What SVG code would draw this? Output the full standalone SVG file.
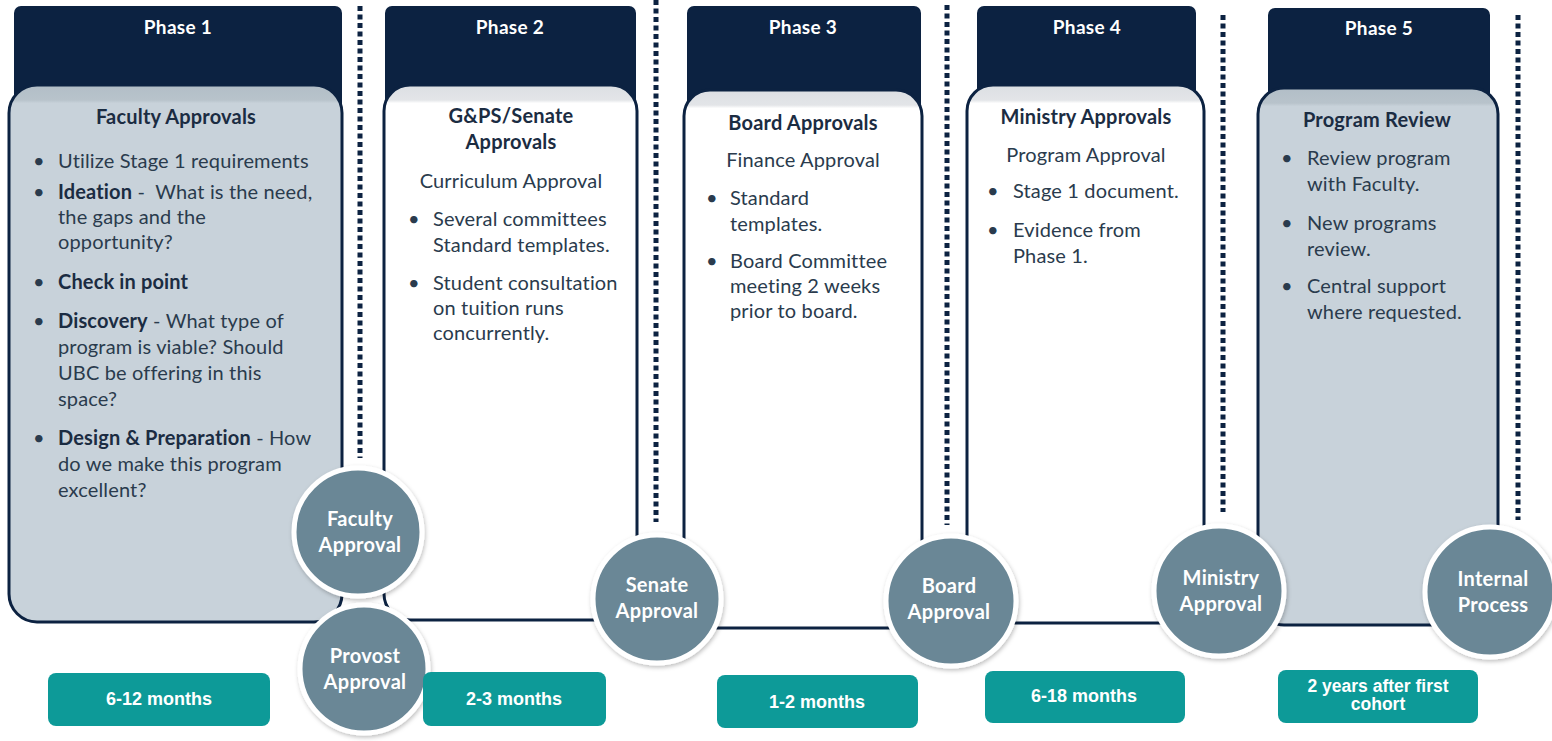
<svg xmlns="http://www.w3.org/2000/svg" width="1552" height="741" viewBox="0 0 1552 741">
<style>
  .hdr { fill: #0c2241; }
  .hdrt { font-family: Lato, "Open Sans", sans-serif; font-weight: bold; font-size: 19px; letter-spacing: 0.3px; fill: #ffffff; text-anchor: middle; }
  .card { stroke: #0c2241; stroke-width: 3; }
  .cw { fill: url(#gw); }
  .cb { fill: url(#gb); }
  .t { font-family: Lato, "Open Sans", sans-serif; font-size: 20px; letter-spacing: 0.15px; fill: #2a3b4d; }
  .h { font-family: Lato, "Open Sans", sans-serif; font-size: 20px; letter-spacing: 0.2px; font-weight: bold; fill: #1b2c42; text-anchor: middle; }
  .c { text-anchor: middle; }
  .b { font-weight: bold; fill: #1b2c42; }
  .dots { stroke: #0c2241; stroke-width: 5; stroke-dasharray: 5 3.5; fill: none; }
  .circ { fill: #6a8796; stroke: #ffffff; stroke-width: 5; filter: url(#sh); }
  .ct { font-family: Lato, "Open Sans", sans-serif; font-weight: bold; font-size: 20px; letter-spacing: 0.3px; fill: #ffffff; text-anchor: middle; }
  .dur { fill: #0d9a98; }
  .dt { font-family: "Liberation Sans", Arial, sans-serif; font-weight: bold; font-size: 18px; fill: #ffffff; text-anchor: middle; }
</style>
<defs>
  <linearGradient id="gw" x1="0" y1="0" x2="0" y2="1">
    <stop offset="0" stop-color="#dcdfe3"/>
    <stop offset="0.028" stop-color="#e3e5e8"/>
    <stop offset="0.034" stop-color="#ffffff"/>
    <stop offset="1" stop-color="#ffffff"/>
  </linearGradient>
  <linearGradient id="gb" x1="0" y1="0" x2="0" y2="1">
    <stop offset="0" stop-color="#b2bec7"/>
    <stop offset="0.028" stop-color="#b8c3cb"/>
    <stop offset="0.034" stop-color="#c8d2da"/>
    <stop offset="1" stop-color="#c8d2da"/>
  </linearGradient>
  <filter id="sh" x="-20%" y="-20%" width="140%" height="140%">
    <feDropShadow dx="1" dy="2" stdDeviation="2" flood-color="#000000" flood-opacity="0.25"/>
  </filter>
</defs>
<rect width="1552" height="741" fill="#ffffff"/>

<g id="phase1">
  <rect class="hdr" x="14" y="6" width="328" height="110" rx="7"/>
  <text class="hdrt" x="178" y="34">Phase 1</text>
  <rect class="card cb" x="9" y="85" width="333" height="537" rx="28"/>
  <text class="h" x="176" y="124">Faculty Approvals</text>
  <g class="t">
    <text x="33" y="168">•</text><text x="58" y="168">Utilize Stage 1 requirements</text>
    <text x="33" y="199">•</text><text x="58" y="199"><tspan class="b">Ideation</tspan> - &#160;What is the need,</text>
    <text x="58" y="224">the gaps and the</text>
    <text x="58" y="249">opportunity?</text>
    <text x="33" y="289">•</text><text x="58" y="289"><tspan class="b">Check in point</tspan></text>
    <text x="33" y="328">•</text><text x="58" y="328"><tspan class="b">Discovery</tspan> - What type of</text>
    <text x="58" y="354">program is viable? Should</text>
    <text x="58" y="380">UBC be offering in this</text>
    <text x="58" y="406">space?</text>
    <text x="33" y="445">•</text><text x="58" y="445"><tspan class="b">Design &amp; Preparation</tspan> - How</text>
    <text x="58" y="471">do we make this program</text>
    <text x="58" y="497">excellent?</text>
  </g>
</g>

<g id="phase2">
  <rect class="hdr" x="385" y="6" width="251" height="110" rx="7"/>
  <text class="hdrt" x="510" y="34">Phase 2</text>
  <rect class="card cw" x="384" y="85" width="253" height="535" rx="26"/>
  <text class="h" x="511" y="123">G&amp;PS/Senate</text>
  <text class="h" x="511" y="149">Approvals</text>
  <g class="t">
    <text class="c" x="511" y="188">Curriculum Approval</text>
    <text x="408" y="226">•</text><text x="433" y="226">Several committees</text>
    <text x="433" y="252">Standard templates.</text>
    <text x="408" y="290">•</text><text x="433" y="290">Student consultation</text>
    <text x="433" y="315">on tuition runs</text>
    <text x="433" y="340">concurrently.</text>
  </g>
</g>

<g id="phase3">
  <rect class="hdr" x="687" y="6" width="234" height="110" rx="7"/>
  <text class="hdrt" x="803" y="34">Phase 3</text>
  <rect class="card cw" x="684" y="90" width="238" height="538" rx="26"/>
  <text class="h" x="803" y="130">Board Approvals</text>
  <g class="t">
    <text class="c" x="803" y="167">Finance Approval</text>
    <text x="706" y="205">•</text><text x="730" y="205">Standard</text>
    <text x="730" y="231">templates.</text>
    <text x="706" y="268">•</text><text x="730" y="268">Board Committee</text>
    <text x="730" y="293">meeting 2 weeks</text>
    <text x="730" y="318">prior to board.</text>
  </g>
</g>

<g id="phase4">
  <rect class="hdr" x="977" y="6" width="219" height="110" rx="7"/>
  <text class="hdrt" x="1087" y="34">Phase 4</text>
  <rect class="card cw" x="967" y="85" width="237" height="538" rx="26"/>
  <text class="h" x="1086" y="124">Ministry Approvals</text>
  <g class="t">
    <text class="c" x="1086" y="162">Program Approval</text>
    <text x="987" y="198">•</text><text x="1013" y="198">Stage 1 document.</text>
    <text x="987" y="237">•</text><text x="1013" y="237">Evidence from</text>
    <text x="1013" y="263">Phase 1.</text>
  </g>
</g>

<g id="phase5">
  <rect class="hdr" x="1268" y="8" width="222" height="110" rx="7"/>
  <text class="hdrt" x="1379" y="35">Phase 5</text>
  <rect class="card cb" x="1258" y="88" width="240" height="537" rx="26"/>
  <text class="h" x="1377" y="127">Program Review</text>
  <g class="t">
    <text x="1281" y="165">•</text><text x="1307" y="165">Review program</text>
    <text x="1307" y="191">with Faculty.</text>
    <text x="1281" y="230">•</text><text x="1307" y="230">New programs</text>
    <text x="1307" y="256">review.</text>
    <text x="1281" y="293">•</text><text x="1307" y="293">Central support</text>
    <text x="1307" y="319">where requested.</text>
  </g>
</g>

<g id="connectors">
  <line class="dots" x1="360" y1="6" x2="360" y2="458"/>
  <line class="dots" x1="656" y1="0" x2="656" y2="522"/>
  <line class="dots" x1="947" y1="5" x2="947" y2="525"/>
  <line class="dots" x1="1223" y1="15" x2="1223" y2="512"/>
  <line class="dots" x1="1518" y1="15" x2="1518" y2="520"/>
</g>

<g id="faculty-approval">
  <circle class="circ" cx="358" cy="532" r="64"/>
  <text class="ct" x="360" y="526">Faculty</text>
  <text class="ct" x="360" y="552">Approval</text>
</g>
<g id="provost-approval">
  <circle class="circ" cx="364" cy="669" r="64"/>
  <text class="ct" x="365" y="663">Provost</text>
  <text class="ct" x="365" y="689">Approval</text>
</g>
<g id="senate-approval">
  <circle class="circ" cx="657" cy="599" r="64"/>
  <text class="ct" x="657" y="592">Senate</text>
  <text class="ct" x="657" y="618">Approval</text>
</g>
<g id="board-approval">
  <circle class="circ" cx="951" cy="601" r="65"/>
  <text class="ct" x="949" y="593">Board</text>
  <text class="ct" x="949" y="619">Approval</text>
</g>
<g id="ministry-approval">
  <circle class="circ" cx="1219" cy="591" r="65"/>
  <text class="ct" x="1221" y="585">Ministry</text>
  <text class="ct" x="1221" y="611">Approval</text>
</g>
<g id="internal-process">
  <circle class="circ" cx="1490" cy="592" r="65"/>
  <text class="ct" x="1493" y="586">Internal</text>
  <text class="ct" x="1493" y="612">Process</text>
</g>

<g id="dur1">
  <rect class="dur" x="48" y="673" width="222" height="53" rx="8"/>
  <text class="dt" x="159" y="705">6-12 months</text>
</g>
<g id="dur2">
  <rect class="dur" x="423" y="672" width="183" height="54" rx="8"/>
  <text class="dt" x="514" y="705">2-3 months</text>
</g>
<g id="dur3">
  <rect class="dur" x="717" y="675" width="201" height="53" rx="8"/>
  <text class="dt" x="817" y="708">1-2 months</text>
</g>
<g id="dur4">
  <rect class="dur" x="985" y="671" width="200" height="52" rx="8"/>
  <text class="dt" x="1084" y="702">6-18 months</text>
</g>
<g id="dur5">
  <rect class="dur" x="1278" y="670" width="200" height="53" rx="8"/>
  <text class="dt" x="1378" y="692" style="font-size:17.5px">2 years after first</text>
  <text class="dt" x="1378" y="710" style="font-size:17.5px">cohort</text>
</g>
</svg>
